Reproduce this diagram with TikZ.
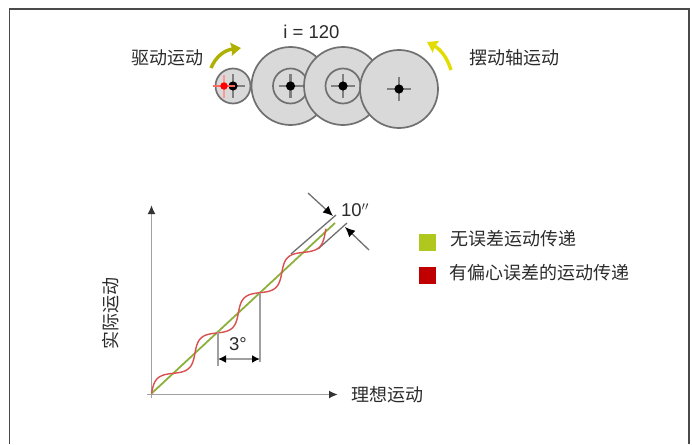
\documentclass[tikz,border=0pt]{standalone}
\usepackage{fontspec}
\setmainfont{Liberation Sans}
\newfontfamily\cjk{Noto Sans CJK SC}
\usetikzlibrary{arrows.meta,calc,positioning}
\definecolor{frameline}{HTML}{4A4A4A}
\definecolor{geargrey}{HTML}{D9D9D9}
\definecolor{gearline}{HTML}{707070}
\definecolor{axisgrey}{HTML}{A0A0A0}
\definecolor{textgrey}{HTML}{2B2B2B}
\definecolor{lawngreen}{HTML}{B0C81E}
\definecolor{linegreen}{HTML}{8DB03C}
\definecolor{errred}{HTML}{C00000}
\definecolor{waveRed}{HTML}{D9504F}
\definecolor{turnyellow}{HTML}{E3DC00}
\definecolor{turnolive}{HTML}{B0B000}
\tikzset{
  gear/.style={circle,draw=gearline,fill=geargrey,line width=1.7pt,inner sep=0pt},
  hub/.style={circle,draw=gearline,line width=1.7pt,inner sep=0pt,minimum size=35pt},
  label/.style={inner sep=0pt,text=textgrey,font=\fontsize{18}{20}\selectfont\cjk},
  numlabel/.style={inner sep=0pt,text=textgrey,font=\fontsize{18.5}{20}\selectfont},
  swatch/.style={minimum size=17pt,inner sep=0pt},
  axisline/.style={-{Latex[length=9pt,width=8pt,black!80]},axisgrey,line width=1.8pt},
  dimline/.style={{Latex[length=8pt,width=8pt,black]}-{Latex[length=8pt,width=8pt,black]},axisgrey,line width=1.6pt},
  pointer/.style={-{Latex[length=10pt,width=9pt,black]},gearline,line width=1.3pt},
  guide/.style={axisgrey,line width=1.7pt},
  guidedark/.style={gearline,line width=1.3pt},
  turn/.style={-{Stealth[length=10pt,width=13pt,inset=1pt]},line width=3.4pt},
}
\begin{document}
\begin{tikzpicture}[x=1pt,y=-1pt]
  \useasboundingbox (0,0) rectangle (692,444);
  % frame, open at the bottom
  \draw[frameline,line width=1.8pt] (9.5,444) -- (9.5,9) -- (689,9) -- (689,444);

  % gear train
  \node[gear,minimum size=35pt] (gearA) at (233,86) {};
  \node[gear,minimum size=78pt] (gearB) at (290.5,86) {};
  \node[hub] (hubB) at (290.5,86) {};
  \node[gear,minimum size=78pt] (gearC) at (343,86) {};
  \node[hub] (hubC) at (343,86) {};
  \node[gear,minimum size=78pt] (gearD) at (399,89) {};
  \foreach \g in {gearA,gearB,gearC,gearD} {
    \draw[axisgrey!80!black,line width=2.2pt] ($(\g)+(-12,0)$) -- ($(\g)+(12,0)$);
    \draw[axisgrey!80!black,line width=2.2pt] ($(\g)+(0,-12)$) -- ($(\g)+(0,12)$);
    \fill[black] (\g) circle (4.6pt);
  }
  \draw[red!60,line width=1.2pt] (213,86) -- (235,86);
  \draw[red!40,line width=1.6pt] (224,75) -- (224,98);
  \node[circle,fill=red,minimum size=7.5pt,inner sep=0pt] (drivept) at (224,86) {};

  \node[numlabel] (ratio) at (311.5,32) {i = 120};
  \node[label] (drive) at (167,58) {驱动运动};
  \node[label] (swing) at (514,58) {摆动轴运动};

  % turning arrows
  \coordinate (turnAs) at (211,68);
  \coordinate (turnAe) at (241,48);
  \coordinate (turnBs) at (451,70);
  \coordinate (turnBe) at (427,42);
  \draw[turn,turnolive] (turnAs) .. controls (216,56) and (225,50) .. (turnAe);
  \draw[turn,turnyellow] (turnBs) .. controls (447,57) and (440,49) .. (turnBe);

  % axes
  \coordinate (origin) at (151.5,394.5);
  \coordinate (xstart) at (147,394.5);
  \coordinate (xend) at (338,394.5);
  \coordinate (ystart) at (151.5,398);
  \coordinate (yend) at (151.5,205);
  \draw[axisline] (xstart) -- (xend);
  \draw[axisline] (ystart) -- (yend);
  \node[label,right=13pt of xend] (xlabel) {理想运动};
  \node[label,rotate=90] (ylabel) at (111,313) {实际运动};

  % error band guides
  \coordinate (bandAs) at (291,254);
  \coordinate (bandAe) at (336,215);
  \coordinate (bandBs) at (318,249);
  \coordinate (bandBe) at (347,223);
  \draw[guidedark] (bandAs) -- (bandAe);
  \draw[guidedark] (bandBs) -- (bandBe);
  \coordinate (ptrAs) at (308,193);
  \coordinate (ptrAe) at (333,216);
  \coordinate (ptrBs) at (369,250);
  \coordinate (ptrBe) at (345,227);
  \draw[pointer] (ptrAs) -- (ptrAe);
  \draw[pointer] (ptrBs) -- (ptrBe);
  \node[numlabel] (tenarc) at (355,210) {10$''$};

  % curves
  \coordinate (lineS) at (151.5,393.5);
  \coordinate (lineE) at (335,223);
  \draw[linegreen,line width=1.8pt] (lineS) -- (lineE);
  \draw[waveRed,line width=1.4pt] plot[domain=0:240,samples=121,smooth]
    ({151.5+0.7325*\x-0.68*7*sin(6.07*\x)},{393.5-0.68*\x-0.7325*7*sin(6.07*\x)});

  % three degree span
  \coordinate (spanAt) at (218,332);
  \coordinate (spanAb) at (218,366);
  \coordinate (spanBt) at (260,293);
  \coordinate (spanBb) at (260,362);
  \coordinate (dimA) at (218,359);
  \coordinate (dimB) at (260,359);
  \draw[guide] (spanAt) -- (spanAb);
  \draw[guide] (spanBt) -- (spanBb);
  \draw[dimline] (dimA) -- (dimB);
  \node[numlabel] (span) at (238,344) {3°};

  % legend
  \node[swatch,fill=lawngreen] (keyok) at (427,242) {};
  \node[swatch,fill=errred] (keybad) at (427,275) {};
  \node[label,anchor=west] (oktext) at (450,239) {无误差运动传递};
  \node[label,anchor=west] (badtext) at (449,273) {有偏心误差的运动传递};
\end{tikzpicture}
\end{document}
